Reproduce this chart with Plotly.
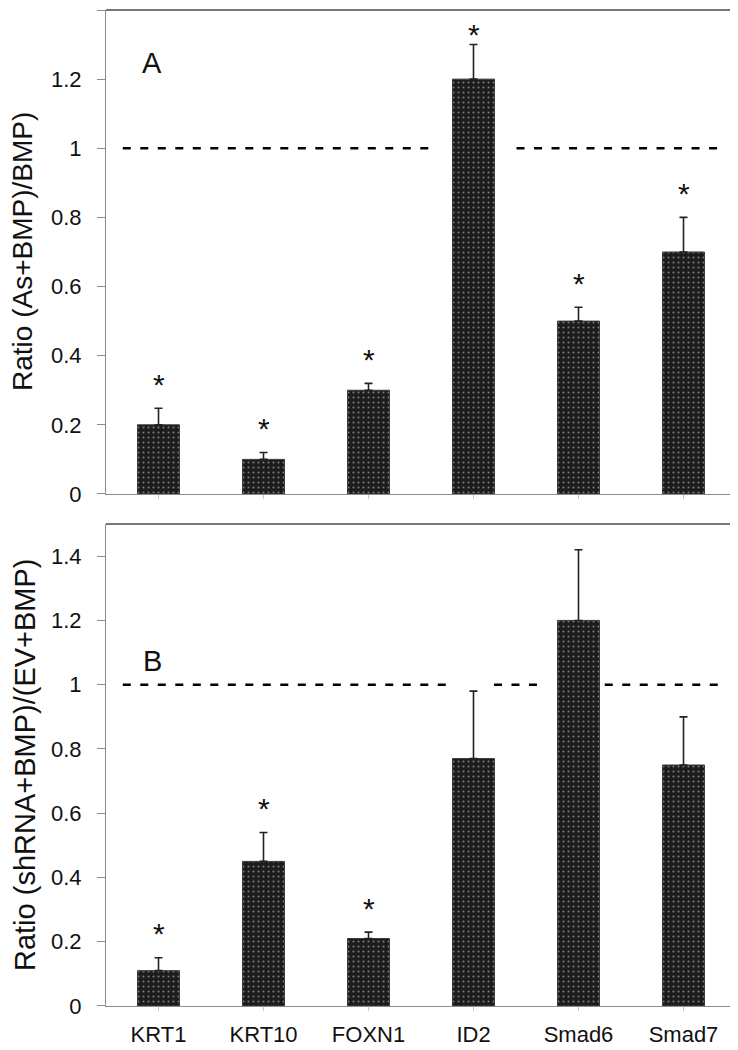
import plotly.graph_objects as go

genes = ["KRT1", "KRT10", "FOXN1", "ID2", "Smad6", "Smad7"]

ratio_a = [0.20, 0.10, 0.30, 1.20, 0.50, 0.70]
err_a = [0.048, 0.02, 0.02, 0.10, 0.04, 0.10]
sig_a = [True, True, True, True, True, True]

ratio_b = [0.11, 0.45, 0.21, 0.77, 1.20, 0.75]
err_b = [0.04, 0.09, 0.02, 0.21, 0.22, 0.15]
sig_b = [True, True, True, False, False, False]

ref_value = 1.0
y_ticks_a = [0, 0.2, 0.4, 0.6, 0.8, 1.0, 1.2, 1.4]
y_ticks_b = [0, 0.2, 0.4, 0.6, 0.8, 1.0, 1.2, 1.4]

FONT = "Arial, Liberation Sans, sans-serif"

# page has an 8px body margin: figure is drawn 8px right/down
W, H = 730, 1042
L, R, T, B = 98, 2, 2, 44
PW = W - L - R

fig = go.Figure()


def add_bars(vals, errs, xa, ya):
    fig.add_trace(go.Bar(
        x=genes, y=vals, xaxis=xa, yaxis=ya,
        marker=dict(
            color="#1c1c1c",
            line=dict(color="#3a3a3a", width=1),
            pattern=dict(shape=".", fgcolor="#dadada", bgcolor="#1c1c1c",
                         size=5, solidity=0.14),
        ),
        error_y=dict(type="data", array=errs, arrayminus=[0] * len(errs),
                     symmetric=False, color="#222222", thickness=1.6, width=4),
        showlegend=False,
    ))


add_bars(ratio_a, err_a, "x", "y")
add_bars(ratio_b, err_b, "x2", "y2")

top_dom = [0.5141, 1.0]
bot_dom = [0.0, 0.4839]

axis_common = dict(
    showline=True, linecolor="#8c8c8c", linewidth=1.2,
    ticks="outside", tickcolor="#8c8c8c", ticklen=8,
    tickfont=dict(family=FONT, size=22, color="#111"),
    showgrid=False, zeroline=False, automargin=False,
)

fig.update_layout(
    width=W, height=H,
    margin=dict(l=L, r=R, t=T, b=B),
    paper_bgcolor="white", plot_bgcolor="white",
    bargap=0.6,
    font=dict(family=FONT, color="#111"),
    xaxis=dict(domain=[0, 1], anchor="y", showticklabels=False, automargin=False,
               showline=True, linecolor="#8c8c8c", linewidth=1.2,
               ticks="outside", tickcolor="#c8c8c8", ticklen=4, showgrid=False),
    yaxis=dict(domain=top_dom, anchor="x", range=[0, 1.4],
               tickvals=y_ticks_a, ticklabelstandoff=11, **axis_common),
    xaxis2=dict(domain=[0, 1], anchor="y2", showline=True, linecolor="#8c8c8c",
                linewidth=1.2, ticks="outside", tickcolor="#c8c8c8", ticklen=4,
                showgrid=False, ticklabelstandoff=4, automargin=False,
                tickfont=dict(family=FONT, size=22, color="#111")),
    yaxis2=dict(domain=bot_dom, anchor="x2", range=[0, 1.5],
                tickvals=y_ticks_b, ticklabelstandoff=11, **axis_common),
)

shapes = []
# box top/right edges
for xr, yr in (("x domain", "y domain"), ("x2 domain", "y2 domain")):
    shapes.append(dict(type="line", xref=xr, yref=yr, x0=0, x1=1, y0=1, y1=1,
                       line=dict(color="#4a4a4a", width=1.5)))
    shapes.append(dict(type="line", xref=xr, yref=yr, x0=1, x1=1, y0=0, y1=1,
                       line=dict(color="#4a4a4a", width=1.5)))

# dashed reference line segments (category units)
seg_a = [(-0.34, 2.63), (3.41, 5.37)]
seg_b = [(-0.34, 2.795), (3.195, 3.61), (4.25, 5.37)]
for segs, xr, yr in ((seg_a, "x", "y"), (seg_b, "x2", "y2")):
    for x0, x1 in segs:
        shapes.append(dict(type="line", xref=xr, yref=yr, x0=x0, x1=x1,
                           y0=ref_value, y1=ref_value,
                           line=dict(color="black", width=2.6, dash="8px,9.5px")))
fig.update_layout(shapes=shapes)

ann = []
for vals, errs, sig, xr, yr in ((ratio_a, err_a, sig_a, "x", "y"),
                                 (ratio_b, err_b, sig_b, "x2", "y2")):
    for g, v, e, s in zip(genes, vals, errs, sig):
        if not s:
            continue
        top = v + e
        shift = 16 if top > 1.25 else 30
        ann.append(dict(x=g, y=top, xref=xr, yref=yr, text="*", showarrow=False,
                        xanchor="center", yanchor="middle", yshift=shift - 6,
                        font=dict(family=FONT, size=30, color="#111")))

ann.append(dict(x=(152 - 106) / 630, y=1.247, xref="x domain", yref="y", text="A",
                xanchor="center", yanchor="middle",
                showarrow=False, font=dict(family=FONT, size=29, color="#111")))
ann.append(dict(x=(152 - 106) / 630, y=1.075, xref="x2 domain", yref="y2", text="B",
                xanchor="center", yanchor="middle",
                showarrow=False, font=dict(family=FONT, size=29, color="#111")))

ann.append(dict(x=(23 - 106) / PW, y=(top_dom[0] + top_dom[1]) / 2, xref="paper", yref="paper",
                text="Ratio (As+BMP)/BMP)", textangle=-90, showarrow=False,
                xanchor="center", yanchor="middle",
                font=dict(family=FONT, size=28, color="#111")))
ann.append(dict(x=(25 - 106) / PW, y=(bot_dom[0] + bot_dom[1]) / 2, xref="paper", yref="paper",
                text="Ratio (shRNA+BMP)/(EV+BMP)", textangle=-90, showarrow=False,
                xanchor="center", yanchor="middle",
                font=dict(family=FONT, size=29, color="#111")))
fig.update_layout(annotations=ann)

fig.write_html("out.html")
